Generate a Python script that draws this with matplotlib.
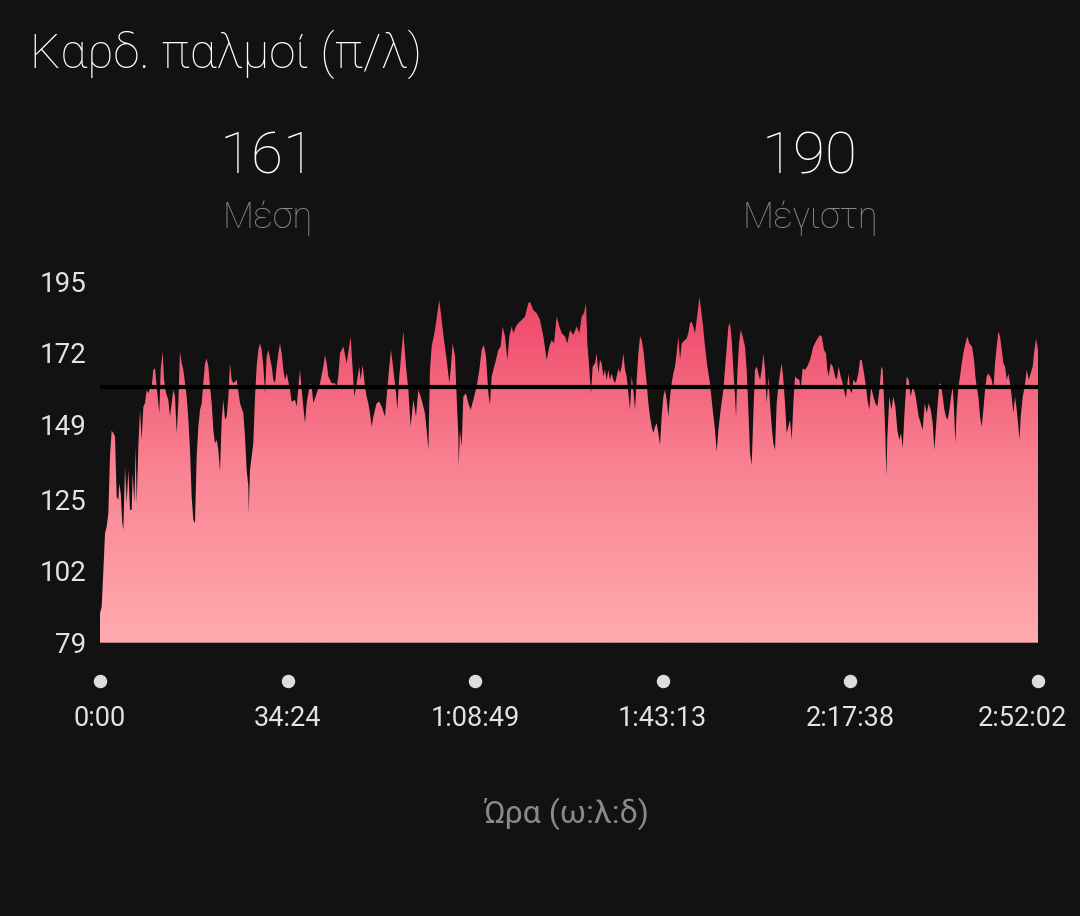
import numpy as np
import matplotlib.pyplot as plt
from matplotlib.colors import LinearSegmentedColormap
from matplotlib.transforms import blended_transform_factory, ScaledTranslation

plt.rcParams['font.family'] = ['Roboto', 'DejaVu Sans']

title = "Καρδ. παλμοί (π/λ)"
avg_bpm = 161
max_bpm = 190
avg_label = "Μέση"
max_label = "Μέγιστη"
x_title = "Ώρα (ω:λ:δ)"

total_min = 172.03  # 2:52:02
x_ticks = [0, 34.40, 68.82, 103.22, 137.63, 172.03]
x_tick_labels = ["0:00", "34:24", "1:08:49", "1:43:13", "2:17:38", "2:52:02"]
y_ticks = [79, 102, 125, 149, 172, 195]

# (minute, bpm)
warmup = [
    (0, 88.4), (0.31, 90.6), (0.61, 101.8), (0.92, 114.1), (1.22, 116.2), (1.53, 120.5),
    (1.83, 138.7), (2.14, 147.0), (2.45, 146.2), (2.75, 145.1), (3.06, 125.8), (3.36, 124.8),
    (3.55, 130.1), (3.79, 126.9), (4.10, 117.3), (4.28, 115.2), (4.59, 135.5), (4.89, 123.7),
    (5.20, 134.4), (5.50, 121.6), (5.81, 121.6), (5.99, 133.3), (6.30, 123.7), (6.54, 141.9),
    (6.73, 123.7), (7.03, 141.9), (7.34, 153.7), (7.64, 144.0), (7.95, 154.7), (8.25, 155.8),
    (8.56, 160.1), (8.86, 159.0), (9.17, 160.6), (9.48, 161.1), (9.78, 166.5), (10.09, 167.0),
    (10.39, 161.1), (10.70, 155.8), (10.88, 152.6), (11.13, 166.5), (11.49, 172.4), (11.74, 163.3),
    (12.11, 159.0), (12.53, 156.9), (12.84, 151.5), (13.14, 155.8), (13.45, 160.1), (13.76, 157.9),
    (14.06, 146.2), (14.37, 155.8), (14.67, 172.4), (14.98, 168.6), (15.28, 166.5), (15.59, 162.2),
    (15.90, 157.9), (16.20, 150.5), (16.51, 140.8), (16.81, 125.8), (17.12, 118.4), (17.42, 117.3),
    (17.73, 138.7), (18.04, 148.3), (18.34, 153.7), (18.65, 155.8), (18.95, 162.2), (19.26, 168.6),
    (19.56, 170.2), (19.87, 167.6), (20.18, 161.1), (20.48, 155.8), (20.79, 147.2), (21.09, 143.0),
    (21.40, 144.0), (21.70, 140.8), (22.01, 133.9), (22.32, 150.5), (22.62, 156.9), (22.93, 150.5),
    (23.23, 151.5), (23.54, 157.9), (23.84, 168.6), (24.15, 163.3), (24.45, 162.2), (25.07, 163.3),
    (25.68, 155.8), (26.29, 152.6), (26.59, 145.1), (26.90, 134.4), (27.21, 129.1), (27.27, 120.5),
    (27.51, 134.4), (28.12, 143.0), (28.43, 157.9), (28.73, 167.6), (29.04, 172.9), (29.35, 175.0),
    (29.65, 172.9), (29.96, 167.6), (30.26, 159.0), (30.57, 170.8), (30.87, 172.9), (31.49, 167.6),
    (31.79, 163.3), (32.10, 162.2), (32.40, 167.6), (32.71, 171.8), (33.01, 175.0), (33.32, 171.8),
    (33.63, 166.5), (33.93, 163.3), (34.24, 165.4), (34.85, 160.1), (35.15, 156.3), (35.77, 156.9),
    (36.07, 154.7), (36.38, 161.1), (36.68, 166.5), (36.99, 160.1), (37.29, 154.7), (37.60, 149.4),
    (37.90, 155.8), (38.52, 162.2), (38.82, 161.1), (39.13, 155.8), (39.74, 159.0), (40.35, 162.2),
    (40.96, 167.6), (41.27, 171.3), (41.57, 168.6), (41.88, 164.4), (42.49, 162.2), (43.10, 162.2),
    (43.41, 161.1), (43.71, 164.4),
]

second_part = [
    (44.01, 171.8), (44.63, 174.0), (45.24, 168.6), (45.97, 177.2), (46.34, 166.5), (46.64, 157.9),
    (47.07, 162.2), (47.56, 167.6), (47.80, 163.3), (48.17, 168.1), (48.60, 161.1), (48.91, 157.9),
    (49.21, 155.8), (49.52, 152.6), (49.82, 148.3), (50.13, 151.5), (50.74, 155.8), (51.23, 156.3),
    (51.66, 154.7), (52.27, 151.5), (52.57, 157.9), (53.06, 167.6), (53.37, 172.9), (53.80, 166.5),
    (54.29, 159.0), (54.53, 153.7), (54.84, 163.3), (55.32, 172.9), (55.63, 178.8), (56.12, 167.6),
    (56.55, 160.1), (56.97, 148.3), (57.46, 156.9), (57.95, 151.5), (58.38, 160.1), (58.99, 156.9),
    (59.60, 152.6), (59.91, 147.2), (60.22, 140.8), (60.52, 166.5), (60.83, 174.0), (61.44, 179.3),
    (61.87, 184.7), (62.23, 188.9), (62.66, 182.5), (63.09, 176.1), (63.58, 169.7), (64.07, 162.2),
    (64.31, 166.5), (64.68, 175.0), (65.11, 170.8), (65.41, 157.9), (65.72, 145.1), (65.78, 135.5),
    (66.02, 147.2), (66.33, 141.9), (66.63, 157.9), (67.12, 159.0), (67.55, 155.8), (67.98, 153.7),
    (68.47, 156.9), (69.08, 161.1), (69.57, 166.5), (69.99, 172.9), (70.42, 174.5), (70.79, 170.8),
    (71.22, 159.0), (71.52, 155.3), (71.83, 164.4), (72.14, 166.5), (72.63, 169.7), (73.05, 172.9),
    (73.48, 174.0), (73.85, 180.4), (74.28, 177.2), (74.71, 169.7), (75.07, 177.2), (75.50, 180.4),
    (75.81, 178.3), (76.29, 180.4), (76.72, 181.5), (77.33, 182.5), (77.95, 183.6), (78.56, 187.9),
    (78.86, 188.4), (79.47, 185.7), (80.09, 184.7), (80.70, 182.5), (81.31, 177.2), (81.92, 169.7),
    (82.41, 174.0), (82.84, 176.1), (83.27, 175.0), (83.75, 183.6), (84.24, 180.4), (84.67, 178.3),
    (85.28, 177.2), (85.71, 175.0),
]

third_part = [
    (86.20, 179.3), (86.81, 177.7), (87.42, 180.4), (87.91, 178.3), (88.34, 183.6), (88.77, 184.7),
    (89.13, 187.9), (89.38, 175.0), (89.75, 166.5), (90.05, 159.0), (90.36, 167.6), (90.79, 168.6),
    (91.09, 171.8), (91.40, 165.4), (91.70, 169.7), (92.01, 168.6), (92.31, 164.4), (92.62, 166.5),
    (92.92, 163.3), (93.23, 166.5), (93.54, 163.3), (93.84, 165.4), (94.15, 163.3), (94.45, 162.2),
    (94.76, 164.4), (95.07, 167.0), (95.37, 165.4), (95.68, 167.6), (95.98, 171.8), (96.29, 166.5),
    (96.59, 164.4), (96.90, 159.0), (97.20, 153.7), (97.51, 164.4), (97.82, 160.1), (98.12, 153.7),
    (98.43, 163.3), (98.73, 171.8), (99.04, 177.2), (99.34, 176.1), (99.65, 172.9), (99.96, 167.6),
    (100.26, 162.2), (100.57, 155.8), (100.87, 151.5), (101.18, 148.3), (101.48, 146.2), (101.79, 148.3),
    (102.10, 149.4), (102.40, 146.2), (102.71, 142.4), (103.01, 151.5), (103.32, 157.9), (103.62, 160.1),
    (103.93, 156.9), (104.23, 151.5), (104.54, 157.9), (104.85, 162.2), (105.15, 165.4), (105.46, 167.6),
    (105.76, 171.8), (106.07, 177.2), (106.38, 169.7), (106.68, 175.0), (106.99, 175.6), (107.29, 176.1),
    (107.60, 176.6), (107.90, 178.3), (108.21, 181.5), (108.51, 182.0), (108.82, 180.4), (109.13, 178.3),
    (109.43, 182.5), (109.74, 186.8), (109.92, 190.0), (110.17, 186.8), (110.53, 181.5), (110.96, 174.0),
    (111.39, 167.6), (111.88, 162.2), (112.37, 153.7), (112.79, 147.2), (113.10, 140.3), (113.41, 147.2),
    (113.83, 153.7), (114.32, 160.1), (114.81, 170.8), (115.24, 180.4), (115.55, 181.5), (115.85, 176.1),
    (116.16, 166.5), (116.46, 157.9), (116.65, 151.5), (116.89, 165.4), (117.20, 175.0), (117.50, 179.3),
    (117.87, 177.2), (118.30, 174.0), (118.60, 166.5), (118.91, 153.7), (119.21, 139.8), (119.52, 136.0),
    (119.83, 152.6), (120.13, 166.5), (120.44, 167.6), (120.74, 165.4), (121.05, 163.3), (121.35, 166.5),
    (121.66, 171.8), (121.96, 166.5), (122.27, 155.8), (122.58, 164.4), (122.88, 155.8), (123.19, 148.3),
    (123.49, 143.0), (123.80, 140.8), (124.10, 155.8), (124.41, 161.1), (124.72, 165.4), (125.02, 168.6),
    (125.33, 163.3), (125.63, 155.8), (125.94, 146.2), (126.24, 148.3), (126.55, 150.5), (126.86, 144.0),
    (127.16, 155.8), (127.47, 164.4), (127.77, 163.8), (128.26, 163.3), (128.50, 160.1), (128.87, 167.0),
    (129.30, 166.5), (129.72, 167.6),
]

final_part = [
    (130.22, 169.7), (130.83, 174.0), (131.44, 176.1), (132.05, 177.7), (132.36, 177.2), (132.79, 172.9),
    (133.15, 171.8), (133.40, 166.5), (133.64, 164.4), (134.01, 168.6), (134.38, 167.6), (134.81, 164.4),
    (135.11, 163.3), (135.48, 167.6), (135.84, 164.4), (136.21, 162.2), (136.58, 159.0), (136.82, 157.4),
    (137.07, 162.2), (137.31, 165.4), (137.56, 160.1), (137.86, 159.0), (138.17, 163.3), (138.66, 162.2),
    (139.09, 165.4), (139.39, 169.7), (139.70, 169.7), (140.12, 165.4), (140.49, 161.1), (140.74, 156.9),
    (141.10, 153.7), (141.41, 161.1), (141.84, 157.9), (142.20, 155.8), (142.57, 154.7), (142.94, 160.1),
    (143.30, 167.6), (143.55, 166.5), (143.79, 156.9), (144.04, 145.1), (144.22, 132.3), (144.40, 145.1),
    (144.77, 157.9), (145.14, 153.7), (145.50, 157.9), (145.87, 154.7), (146.24, 147.2), (146.60, 144.0),
    (146.91, 146.2), (147.22, 141.4), (147.58, 153.7), (147.95, 164.4), (148.32, 163.3), (148.68, 157.9),
    (149.05, 161.1), (149.48, 159.0), (149.78, 155.8), (150.15, 151.5), (150.52, 149.4), (150.88, 147.2),
    (151.25, 155.8), (151.62, 152.6), (151.99, 155.8), (152.35, 153.7), (152.72, 149.4), (153.02, 140.8),
    (153.33, 148.3), (153.64, 155.8), (153.94, 162.2), (154.25, 161.7), (154.55, 157.9), (154.86, 153.7),
    (155.16, 151.5), (155.47, 150.5), (155.78, 153.7), (156.08, 157.9), (156.39, 161.1), (156.63, 153.7),
    (156.88, 143.0), (157.12, 153.7), (157.43, 161.1), (157.73, 164.4), (158.04, 168.6), (158.34, 171.8),
    (158.71, 175.0), (159.08, 177.2), (159.44, 175.0), (159.93, 174.0), (160.30, 169.7), (160.54, 164.4),
    (160.79, 161.1), (161.10, 157.9), (161.40, 151.5), (161.71, 148.3), (162.01, 153.7), (162.32, 160.1),
    (162.62, 164.4), (162.93, 165.4), (163.23, 164.4), (163.54, 163.3), (163.85, 160.1), (164.15, 168.6),
    (164.46, 174.0), (164.76, 178.8), (165.07, 177.2), (165.38, 172.9), (165.68, 168.6), (165.99, 167.6),
    (166.29, 163.3), (166.60, 165.4), (166.90, 162.2), (167.21, 157.9), (167.52, 152.6), (167.82, 157.9),
    (168.13, 153.7), (168.43, 148.3), (168.62, 144.0), (168.86, 151.5), (169.23, 157.9), (169.59, 161.1),
    (169.96, 166.5), (170.33, 163.3), (170.69, 165.4), (171.06, 167.6), (171.30, 171.8), (171.67, 176.6),
    (172.03, 172.9),
]

samples = np.array(warmup + second_part + third_part + final_part)
minutes = samples[:, 0]
bpm = samples[:, 1]

bg = '#121212'
W, H = 1080, 916
fig = plt.figure(figsize=(W / 100, H / 100), dpi=100, facecolor=bg)
ax = fig.add_axes([100 / W, 273.3 / H, 938 / W, 361.7 / H])
ax.set_facecolor(bg)

ymin, ymax = y_ticks[0], y_ticks[-1]
# gradient fill clipped to the heart-rate area
area = ax.fill_between(minutes, bpm, ymin, facecolor='none', lw=0)
cmap = LinearSegmentedColormap.from_list('hr', ['#ffabaf', '#f98191', '#ec4063'])
grad = np.linspace(0, 1, 256).reshape(-1, 1)
img = ax.imshow(grad, extent=[0, total_min, ymin, ymax], origin='lower',
                aspect='auto', cmap=cmap, zorder=1)
img.set_clip_path(area.get_paths()[0], transform=ax.transData)

ax.axhline(avg_bpm, color='black', lw=3, zorder=3)

ax.set_xlim(0, total_min)
ax.set_ylim(ymin, ymax)
for s in ax.spines.values():
    s.set_visible(False)

ax.set_yticks(y_ticks)
ax.tick_params(axis='y', length=0, pad=10, labelsize=20, labelcolor='#e2e2e2')
ax.set_xticks(x_ticks, x_tick_labels)
ax.tick_params(axis='x', length=0, pad=45, labelsize=19.5, labelcolor='#e2e2e2')
# last label is pulled in so it stays inside the screen
last = ax.get_xticklabels()[-1]
last.set_transform(last.get_transform() + ScaledTranslation(-0.16, 0, fig.dpi_scale_trans))

trans = blended_transform_factory(ax.transData, ax.transAxes)
ax.scatter(x_ticks, [-0.105] * len(x_ticks), s=75, color='#dddddd',
           transform=trans, clip_on=False, zorder=4)

fig.text(30 / W, 1 - 68 / H, title, color='white', fontsize=34.5,
         fontweight='light', ha='left', va='baseline')
fig.text(268 / W, 1 - 173 / H, str(avg_bpm), color='white', fontsize=42,
         fontweight='light', ha='center', va='baseline')
fig.text(810 / W, 1 - 173 / H, str(max_bpm), color='white', fontsize=42,
         fontweight='light', ha='center', va='baseline')
fig.text(268 / W, 1 - 228 / H, avg_label, color='#8a8a8a', fontsize=26,
         fontweight='light', ha='center', va='baseline')
fig.text(810 / W, 1 - 228 / H, max_label, color='#8a8a8a', fontsize=26,
         fontweight='light', ha='center', va='baseline')
fig.text(566 / W, 1 - 823 / H, x_title, color='#8a8a8a', fontsize=23,
         ha='center', va='baseline')

fig.savefig('out.png', dpi=100, facecolor=bg)
